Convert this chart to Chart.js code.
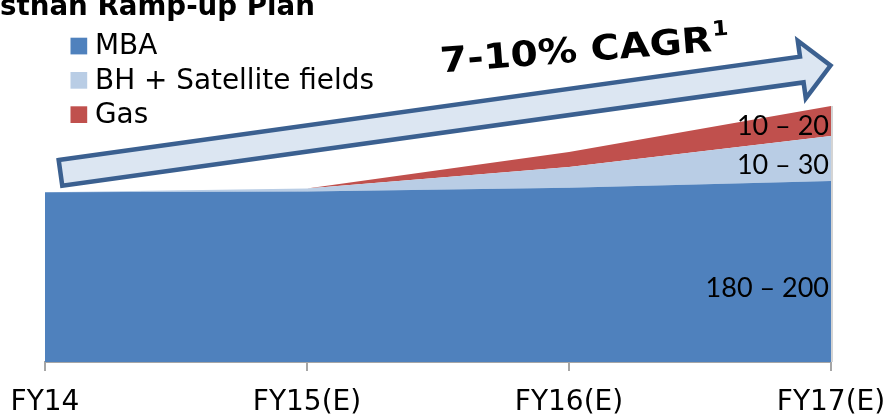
<!DOCTYPE html>
<html>
<head>
<meta charset="utf-8">
<title>Rajasthan Ramp-up Plan</title>
<script src="https://cdn.jsdelivr.net/npm/chart.js@4.4.1/dist/chart.umd.min.js"></script>
<style>
  html, body { margin: 0; padding: 0; background: #fff; }
  #wrap { width: 887px; height: 415px; }
</style>
</head>
<body>
<div id="wrap"><canvas id="rampChart" width="887" height="415"></canvas></div>
<script>
// production ramp-up, kboepd (stacked)
const years = ['FY14', 'FY15(E)', 'FY16(E)', 'FY17(E)'];
const mba = [181, 182, 186, 193];
const bhSatellite = [0, 3, 22, 48];
const gas = [0, 0, 16, 32];
// FY17 ranges shown next to each band: MBA, BH + satellite, gas
const rangeLabels = ['180 – 200', '10 – 30', '10 – 20'];

const BLUE = '#4f81bd';
const LIGHT_BLUE = '#b9cde5';
const RED = '#c0504d';

function areaSet(label, values, color, fill) {
    return {
        label: label,
        data: values,
        backgroundColor: color,
        borderColor: color,
        borderWidth: 0,
        pointRadius: 0,
        tension: 0,
        fill: fill
    };
}

// title, legend, growth arrow and range labels
const overlay = {
    id: 'overlay',
    afterDraw(chart) {
        const ctx = chart.ctx;
        const xs = chart.scales.x;
        const ys = chart.scales.y;
        const last = years.length - 1;
        const xr = xs.getPixelForValue(last);
        ctx.save();

        // faint edge on the right side of the stack
        const total = mba[last] + bhSatellite[last] + gas[last];
        ctx.strokeStyle = '#d4d4d4';
        ctx.lineWidth = 2;
        ctx.beginPath();
        ctx.moveTo(xr + 1, ys.getPixelForValue(total));
        ctx.lineTo(xr + 1, ys.getPixelForValue(0));
        ctx.stroke();

        ctx.fillStyle = '#000';
        ctx.font = 'bold 27.7px "DejaVu Sans"';
        ctx.textAlign = 'left';
        ctx.textBaseline = 'alphabetic';
        ctx.fillText('sthan Ramp-up Plan', 0, 15);

        ctx.font = '27.9px "DejaVu Sans"';
        ctx.textBaseline = 'middle';
        chart.data.datasets.forEach((ds, i) => {
            const cy = 46 + i * 34.3;
            ctx.fillStyle = ds.backgroundColor;
            ctx.fillRect(70.5, cy - 8.3, 16.7, 16.7);
            ctx.fillStyle = '#000';
            ctx.fillText(ds.label, 95, cy + 1);
        });

        // block arrow
        ctx.save();
        ctx.translate(58, 173.3);
        ctx.rotate(Math.atan2(-108.3, 776.3));
        ctx.beginPath();
        ctx.moveTo(2.5, -13);
        ctx.lineTo(751, -13);
        ctx.lineTo(751, -29);
        ctx.lineTo(780, 0);
        ctx.lineTo(751, 29);
        ctx.lineTo(751, 13);
        ctx.lineTo(2.5, 13);
        ctx.closePath();
        ctx.fillStyle = '#dce6f2';
        ctx.fill();
        ctx.lineWidth = 4.5;
        ctx.lineJoin = 'miter';
        ctx.strokeStyle = '#3b6090';
        ctx.stroke();
        ctx.restore();

        // CAGR caption
        ctx.save();
        ctx.translate(441, 72.5);
        ctx.rotate(-4.5 * Math.PI / 180);
        ctx.scale(1.12, 1);
        ctx.fillStyle = '#000';
        ctx.textBaseline = 'alphabetic';
        ctx.font = 'bold 35px "DejaVu Sans"';
        ctx.fillText('7-10% CAGR', 0, 0);
        const w = ctx.measureText('7-10% CAGR').width;
        ctx.font = 'bold 21px "DejaVu Sans"';
        ctx.fillText('1', w + 1, -15);
        ctx.restore();

        // range labels at the right edge of each band
        const frac = [0.59, 0.65, 0.67];
        ctx.font = '27px Lato';
        ctx.textAlign = 'right';
        ctx.textBaseline = 'middle';
        ctx.fillStyle = '#000';
        let base = 0;
        [mba, bhSatellite, gas].forEach((series, i) => {
            const top = base + series[last];
            const yTop = ys.getPixelForValue(top);
            const yBot = ys.getPixelForValue(base);
            ctx.fillText(rangeLabels[i], xr - 2, yTop + (yBot - yTop) * frac[i]);
            base = top;
        });

        ctx.restore();
    }
};

const ctx = document.getElementById('rampChart').getContext('2d');
const chart = new Chart(ctx, {
    type: 'line',
    data: {
        labels: years,
        datasets: [
            areaSet('MBA', mba, BLUE, 'origin'),
            areaSet('BH + Satellite fields', bhSatellite, LIGHT_BLUE, '-1'),
            areaSet('Gas', gas, RED, '-1')
        ]
    },
    options: {
        responsive: false,
        animation: false,
        layout: {
            padding: { left: 45, right: 56, top: 62, bottom: 0 }
        },
        plugins: {
            legend: { display: false },
            tooltip: { enabled: false }
        },
        scales: {
            x: {
                offset: false,
                afterFit(scale) {
                    // keep the plot edges at the layout padding
                    scale.paddingLeft = 0;
                    scale.paddingRight = 0;
                    scale.height = 53;
                },
                grid: {
                    display: true,
                    drawOnChartArea: false,
                    drawTicks: true,
                    tickLength: 9,
                    color: '#a6a6a6',
                    lineWidth: 2
                },
                border: { display: true, color: '#a6a6a6', width: 2 },
                ticks: {
                    color: '#000',
                    padding: 15,
                    maxRotation: 0,
                    autoSkip: false,
                    font: { family: 'DejaVu Sans', size: 28 }
                }
            },
            y: {
                display: false,
                stacked: true,
                min: 0,
                max: 320
            }
        }
    },
    plugins: [overlay]
});
</script>
</body>
</html>
